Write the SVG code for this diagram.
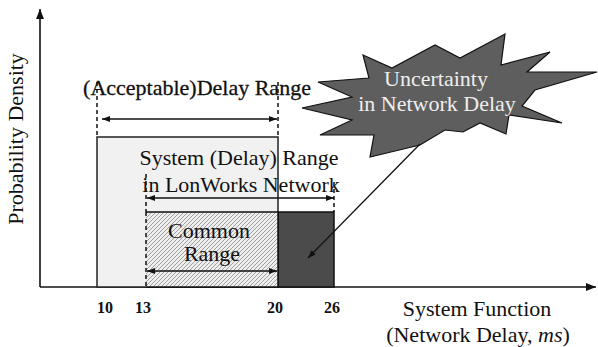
<svg xmlns="http://www.w3.org/2000/svg" width="598" height="347" viewBox="0 0 598 347">
<style>
.t{font-family:"Liberation Serif","Times New Roman",serif;fill:#111}
.ax{stroke:#111;stroke-width:1.6;fill:none}
.dash{stroke:#111;stroke-width:1.5;stroke-dasharray:4,3;fill:none}
.dim{stroke:#111;stroke-width:1.3;fill:none;marker-start:url(#ah);marker-end:url(#ah)}
.num{font-family:"Liberation Serif","Times New Roman",serif;font-weight:bold;font-size:16px;fill:#111;text-anchor:middle}
</style>
<defs>
<marker id="ah" markerUnits="userSpaceOnUse" markerWidth="9" markerHeight="7" refX="8" refY="3" orient="auto-start-reverse"><path d="M0,0 L8,3 L0,6 z" fill="#111"/></marker>
<marker id="axh" markerUnits="userSpaceOnUse" markerWidth="11" markerHeight="9" refX="10" refY="4" orient="auto"><path d="M0,0 L10,4 L0,8 z" fill="#111"/></marker>
<pattern id="hatch" patternUnits="userSpaceOnUse" width="4" height="4">
<rect width="4" height="4" fill="#eeeeee"/>
<path d="M-1,1 L1,-1 M0,4 L4,0 M3,5 L5,3" stroke="#8a8a8a" stroke-width="0.8"/>
</pattern>
</defs>
<rect width="598" height="347" fill="#fff"/>

<g id="axes">
<line class="ax" x1="40" y1="287" x2="40" y2="9" marker-end="url(#axh)"/>
<line class="ax" x1="40" y1="287" x2="596" y2="287" marker-end="url(#axh)"/>
<text class="t" font-size="22" text-anchor="middle" transform="translate(23,139) rotate(-90)">Probability Density</text>
<text class="t" font-size="22" x="477" y="316" text-anchor="middle">System Function</text>
<text class="t" font-size="22" x="478" y="342" text-anchor="middle">(Network Delay, <tspan font-style="italic">ms</tspan>)</text>
<text class="num" x="105" y="313">10</text>
<text class="num" x="143" y="313">13</text>
<text class="num" x="275" y="313">20</text>
<text class="num" x="332" y="313">26</text>
</g>

<g id="acceptable-range">
<rect x="97" y="137" width="181" height="150" fill="#f1f1f1" stroke="#222" stroke-width="1.5"/>
<line class="dash" x1="97" y1="82" x2="97" y2="137"/>
<line class="dash" x1="278" y1="82" x2="278" y2="137"/>
<text class="t" font-size="22" x="197" y="95" text-anchor="middle" stroke="#111" stroke-width="0.3">(Acceptable)Delay Range</text>
</g>

<g id="system-range">
<rect x="278" y="212" width="56" height="75" fill="#4b4b4b" stroke="#111" stroke-width="1.5"/>
<line class="dash" x1="146" y1="174" x2="146" y2="212"/>
<line class="dash" x1="334" y1="182" x2="334" y2="212"/>
<text class="t" font-size="22" x="239" y="165" text-anchor="middle">System (Delay) Range</text>
<text class="t" font-size="22" x="241" y="192" text-anchor="middle">in LonWorks Network</text>
</g>

<g id="common-range">
<rect x="146" y="212" width="132" height="75" fill="url(#hatch)"/>
<path d="M278,212 L146,212 M146,287 L278,287 L278,212" stroke="#111" stroke-width="1.5" fill="none"/>
<line class="dash" x1="146" y1="212" x2="146" y2="287"/>
<text class="t" font-size="22" x="209" y="238" text-anchor="middle">Common</text>
<text class="t" font-size="22" x="212" y="261" text-anchor="middle">Range</text>
</g>

<g id="uncertainty">
<polygon points="363,55 392,68 435,45 460,58 505,34 501,65 550,52 527,72 597,72 535,90 522,106 562,123 509,115 506,134 480,123 463,132 445,130 420,145 370,157 374,135 320,135 352,120 302,108 352,97 318,82 369,78" fill="#5e5e5e" stroke="#111" stroke-width="1.2" stroke-linejoin="miter"/>
<text class="t" font-size="22" x="436" y="86" text-anchor="middle" style="fill:#eeeeee">Uncertainty</text>
<text class="t" font-size="22" x="437" y="111" text-anchor="middle" style="fill:#eeeeee">in Network Delay</text>
</g>

<g id="connectors">
<line class="dim" x1="102" y1="119" x2="277" y2="119"/>
<line class="dim" x1="147" y1="198" x2="334" y2="198"/>
<line class="dim" x1="147" y1="271" x2="277" y2="271"/>
<line x1="420" y1="144" x2="308" y2="258" stroke="#111" stroke-width="1.3" marker-end="url(#ah)"/>
</g>
</svg>
